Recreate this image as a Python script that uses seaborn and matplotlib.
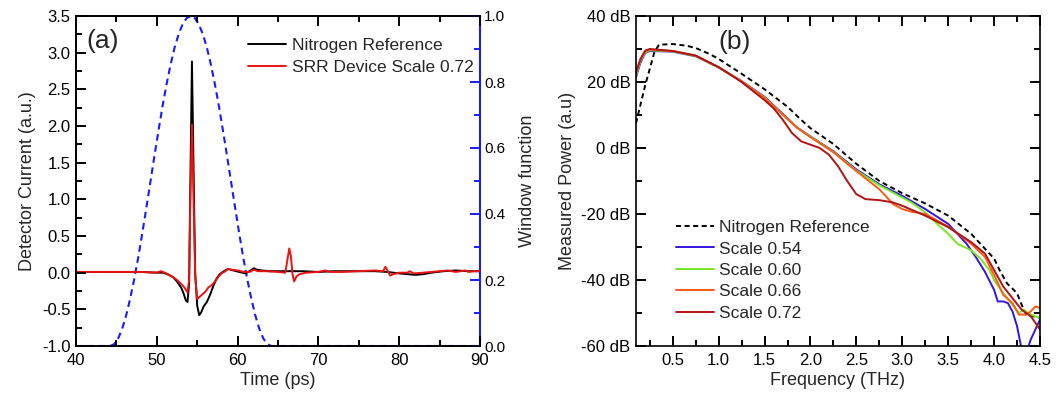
import matplotlib
matplotlib.use("Agg")
import matplotlib.pyplot as plt
from matplotlib.ticker import MultipleLocator
from matplotlib.lines import Line2D
import seaborn as sns

# ---------------- time-domain traces (ps, a.u.) ----------------
nitrogen_trace = [
    (40, 0.01), (45, 0.01), (48, 0.01), (50, 0.0), (50.8, 0.0), (51.5, -0.03),
    (52, -0.06), (52.5, -0.12), (53, -0.2), (53.3, -0.28), (53.6, -0.38),
    (53.8, -0.40), (54.0, -0.15), (54.15, 1.2), (54.35, 2.88), (54.55, 1.4),
    (54.75, 0.0), (55.0, -0.45), (55.25, -0.58), (55.5, -0.54), (55.8, -0.46),
    (56.2, -0.40), (56.6, -0.30), (57.0, -0.18), (57.4, -0.08), (57.8, -0.02),
    (58.3, 0.02), (58.8, 0.05), (59.5, 0.03), (60.2, 0.01), (61.0, -0.01),
    (61.6, 0.03), (62.0, 0.06), (62.4, 0.04), (63.0, 0.03), (64, 0.02),
    (66, 0.02), (68, 0.02), (70, 0.01), (72, 0.02), (75, 0.02), (77, 0.02),
    (78.5, 0.01), (80, -0.01), (81, -0.02), (82, -0.03), (83, -0.02),
    (84, 0.0), (85.5, 0.02), (87, 0.03), (88.5, 0.02), (90, 0.02),
]

srr_trace = [
    (40, 0.01), (45, 0.01), (48, 0.01), (50, 0.0), (50.5, 0.02), (51, 0.0),
    (51.5, -0.03), (52, -0.06), (52.5, -0.1), (53, -0.15), (53.4, -0.2),
    (53.8, -0.27), (54.0, -0.1), (54.15, 1.0), (54.35, 2.02), (54.55, 1.0),
    (54.75, -0.05), (55.0, -0.36), (55.3, -0.33), (55.6, -0.3), (56.0, -0.26),
    (56.4, -0.2), (56.8, -0.17), (57.2, -0.12), (57.6, -0.06), (58.0, -0.01),
    (58.5, 0.02), (58.8, 0.05), (59.3, 0.04), (60, 0.03), (60.8, 0.01),
    (61.5, 0.01), (62, 0.04), (62.5, 0.02), (63.5, 0.02), (65, 0.01),
    (65.9, 0.0), (66.2, 0.2), (66.4, 0.33), (66.6, 0.22), (66.8, -0.02),
    (67.0, -0.12), (67.3, -0.05), (67.7, -0.02), (68.5, 0.0), (70, 0.01),
    (70.8, 0.03), (71.5, 0.01), (73, 0.01), (75, 0.02), (77, 0.03),
    (78.0, 0.02), (78.3, 0.08), (78.6, 0.02), (78.9, -0.04), (79.3, -0.02),
    (80, 0.0), (81, 0.0), (81.3, 0.02), (81.8, -0.01), (83, 0.0), (85, 0.02),
    (86, 0.03), (87, 0.01), (88.2, 0.03), (88.6, 0.01), (89.2, 0.02), (90, 0.02),
]

# window function applied to the time traces
window_time = [40, 44.2, 44.7, 45.2, 45.7, 46.2, 46.7, 47.2, 47.7, 48.2, 48.7,
               49.2, 49.7, 50.2, 50.7, 51.2, 51.7, 52.2, 52.7, 53.2, 53.7,
               54.2, 54.7, 55.2, 55.7, 56.2, 56.7, 57.2, 57.7, 58.2, 58.7,
               59.2, 59.7, 60.2, 60.7, 61.2, 61.7, 62.2, 62.7, 63.2, 63.7,
               64.2, 90]
window_value = [0.0, 0.0, 0.005, 0.022, 0.051, 0.092, 0.143, 0.202, 0.268,
                0.341, 0.418, 0.496, 0.575, 0.651, 0.725, 0.792, 0.852, 0.904,
                0.945, 0.975, 0.994, 1.0, 0.994, 0.975, 0.945, 0.904, 0.852,
                0.792, 0.725, 0.651, 0.575, 0.496, 0.418, 0.341, 0.268, 0.202,
                0.143, 0.092, 0.051, 0.022, 0.005, 0.0, 0.0]

# ---------------- power spectra (THz, dB) ----------------
ref_spectrum = [
    (0.1, 7.5), (0.2, 19), (0.3, 29), (0.35, 31.3), (0.5, 31.5), (0.65, 31),
    (0.75, 30.3), (0.9, 28.5), (1.0, 27), (1.25, 22.5), (1.5, 17.8),
    (1.75, 12.5), (1.9, 8.5), (2.0, 6), (2.25, 1.2), (2.5, -4.8), (2.75, -10),
    (3.0, -13.7), (3.25, -16.8), (3.5, -20.5), (3.75, -26), (3.9, -30.5),
    (4.0, -33.5), (4.06, -37), (4.14, -41), (4.25, -44), (4.3, -47.5),
    (4.35, -50.5), (4.5, -51.5),
]

scale_054 = [
    (0.1, 21.5), (0.15, 26), (0.2, 28.8), (0.25, 29.4), (0.5, 29.2),
    (0.75, 27.8), (1.0, 24.4), (1.25, 20.3), (1.5, 15.5), (1.75, 9),
    (1.85, 6.3), (2.0, 3.5), (2.25, -1), (2.5, -6.5), (2.75, -11),
    (3.0, -14.5), (3.25, -18.5), (3.5, -23), (3.7, -29), (3.8, -33),
    (3.9, -37.5), (4.0, -43), (4.04, -46.5), (4.1, -46.5), (4.15, -47),
    (4.2, -49.5), (4.25, -54), (4.3, -61), (4.34, -63), (4.4, -58), (4.5, -52),
]

scale_060 = [
    (0.1, 22), (0.15, 26.5), (0.2, 29), (0.25, 29.6), (0.5, 29.3),
    (0.75, 27.9), (1.0, 24.4), (1.25, 20.2), (1.5, 15.3), (1.75, 8.8),
    (1.85, 6.2), (2.0, 3.4), (2.25, -1.2), (2.5, -6.8), (2.75, -11.3),
    (3.0, -15), (3.1, -16.5), (3.25, -19.5), (3.4, -23.5), (3.5, -26),
    (3.6, -29), (3.75, -31), (3.85, -33.5), (3.95, -37), (4.0, -40),
    (4.1, -44), (4.2, -47.5), (4.27, -50), (4.32, -49), (4.4, -50.5),
    (4.5, -51.5),
]

scale_066 = [
    (0.1, 22.5), (0.15, 27), (0.2, 29.3), (0.25, 29.8), (0.5, 29.4),
    (0.75, 28), (1.0, 24.5), (1.25, 20.2), (1.5, 15.2), (1.75, 8.8),
    (1.85, 6.2), (2.0, 3.3), (2.25, -1.3), (2.5, -7), (2.75, -12.5),
    (2.9, -17), (3.0, -18.5), (3.1, -19.3), (3.25, -20), (3.5, -23.8),
    (3.75, -29), (3.9, -33), (4.0, -38.5), (4.1, -44.5), (4.2, -47),
    (4.27, -50.5), (4.35, -50.5), (4.4, -49.5), (4.45, -48), (4.5, -48.5),
]

scale_072 = [
    (0.1, 23), (0.15, 27), (0.2, 29.5), (0.25, 30), (0.5, 29.4), (0.75, 28),
    (1.0, 24.5), (1.25, 20), (1.5, 14.5), (1.6, 12), (1.7, 8.5), (1.8, 4.5),
    (1.9, 2), (2.0, 1), (2.1, 0), (2.2, -2), (2.3, -5.5), (2.4, -10),
    (2.5, -14), (2.6, -15.5), (2.75, -15.8), (2.9, -16.5), (3.0, -17.5),
    (3.25, -20.5), (3.5, -24), (3.75, -28.5), (3.9, -32), (4.0, -37),
    (4.1, -42), (4.2, -45.5), (4.3, -49), (4.4, -51), (4.5, -55),
]

spectrum_labels = ["Scale 0.54", "Scale 0.60", "Scale 0.66", "Scale 0.72"]
spectrum_colors = ["#3514dc", "#77e624", "#ff5a14", "#b01414"]
power_ticks = [-60, -40, -20, 0, 20, 40]
power_tick_labels = [f"{v} dB" for v in power_ticks]

# ---------------- styling ----------------
sns.set_theme(style="ticks", rc={
    "axes.axisbelow": False,
    "xtick.direction": "in", "ytick.direction": "in",
    "xtick.top": True, "ytick.right": True,
    "xtick.major.size": 7, "ytick.major.size": 7,
    "xtick.minor.size": 4, "ytick.minor.size": 4,
    "xtick.major.width": 1.4, "ytick.major.width": 1.4,
    "xtick.minor.width": 1.4, "ytick.minor.width": 1.4,
    "xtick.color": "black", "ytick.color": "black",
    "axes.edgecolor": "black", "axes.linewidth": 1.2,
})
plt.rcParams["font.family"] = ["Liberation Sans", "DejaVu Sans"]
plt.rcParams["axes.unicode_minus"] = False

fig = plt.figure(figsize=(10.61, 3.97), dpi=100)
ax_a = fig.add_axes([76 / 1061, 51 / 397, 404 / 1061, 330 / 397])
ax_b = fig.add_axes([636 / 1061, 51 / 397, 404 / 1061, 330 / 397])

TICK_FS = 12
LABEL_FS = 13
LEG_FS = 12.5
WINDOW_BLUE = "#1a1aff"


def split(pairs):
    return [p[0] for p in pairs], [p[1] for p in pairs]


def style_ticks(ax, right=True):
    for s in ax.spines.values():
        s.set_visible(True)
    ax.tick_params(which="both", direction="in", bottom=True, left=True,
                   top=True, right=right, labelsize=TICK_FS,
                   color="black", labelcolor="black", width=1.4)
    ax.tick_params(which="major", length=7)
    ax.tick_params(which="minor", length=4)
    ax.tick_params(axis="x", which="both", pad=5)
    ax.tick_params(axis="y", which="both", pad=4)


# ---------------- panel (a) ----------------
t_n, v_n = split(nitrogen_trace)
t_s, v_s = split(srr_trace)
ax_w = ax_a.twinx()
sns.lineplot(x=window_time, y=window_value, ax=ax_w, color=WINDOW_BLUE,
             lw=1.5, linestyle=(0, (3.2, 2.2)), estimator=None, sort=False)
sns.lineplot(x=t_n, y=v_n, ax=ax_a, color="black", lw=1.4,
             estimator=None, sort=False)
sns.lineplot(x=t_s, y=v_s, ax=ax_a, color="#ee1111", lw=1.4,
             estimator=None, sort=False)
ax_a.set_zorder(ax_w.get_zorder() + 1)
ax_a.patch.set_visible(False)

ax_a.set_xlim(40, 90)
ax_a.set_ylim(-1.0, 3.5)
ax_a.xaxis.set_major_locator(MultipleLocator(10))
ax_a.xaxis.set_minor_locator(MultipleLocator(5))
ax_a.yaxis.set_major_locator(MultipleLocator(0.5))
ax_a.yaxis.set_minor_locator(MultipleLocator(0.25))
ax_a.yaxis.set_major_formatter(lambda v, p: f"{v:.1f}")
style_ticks(ax_a, right=False)
ax_a.spines["right"].set_visible(False)
ax_a.set_xlabel("Time (ps)", fontsize=LABEL_FS, labelpad=3)
ax_a.set_ylabel("Detector Current (a.u.)", fontsize=LABEL_FS, labelpad=4)

ax_w.set_ylim(0, 1.0)
ax_w.yaxis.set_major_locator(MultipleLocator(0.2))
ax_w.yaxis.set_minor_locator(MultipleLocator(0.1))
ax_w.yaxis.set_major_formatter(lambda v, p: f"{v:.1f}")
ax_w.tick_params(axis="y", which="both", direction="in", left=False,
                 right=True, labelsize=11, color=WINDOW_BLUE,
                 labelcolor="black", pad=3)
ax_w.tick_params(axis="x", which="both", top=False, bottom=False)
ax_w.spines["right"].set_color(WINDOW_BLUE)
ax_w.spines["right"].set_linewidth(1.5)
ax_w.set_ylabel("Window function", fontsize=LABEL_FS, labelpad=10)

ax_a.text(43.3, 3.16, "(a)", fontsize=19, ha="center", va="center")

leg_a = [Line2D([], [], color="black", lw=1.4),
         Line2D([], [], color="#ee1111", lw=1.4)]
ax_a.legend(leg_a, ["Nitrogen Reference", "SRR Device Scale 0.72"],
            loc="upper left", bbox_to_anchor=(248 / 1061, 1 - 38 / 397),
            bbox_transform=fig.transFigure, frameon=False, fontsize=LEG_FS,
            handlelength=2.2, handletextpad=0.35, labelspacing=0.38,
            borderpad=0, borderaxespad=0)

# ---------------- panel (b) ----------------
f_r, p_r = split(ref_spectrum)
sns.lineplot(x=f_r, y=p_r, ax=ax_b, color="black", lw=1.4,
             linestyle=(0, (2.6, 1.8)), estimator=None, sort=False)
for series, col in zip([scale_054, scale_060, scale_066, scale_072],
                       spectrum_colors):
    f, p = split(series)
    sns.lineplot(x=f, y=p, ax=ax_b, color=col, lw=1.4,
                 estimator=None, sort=False)

ax_b.set_xlim(0.1, 4.5)
ax_b.set_ylim(-60, 40)
ax_b.xaxis.set_major_locator(MultipleLocator(0.5))
ax_b.xaxis.set_minor_locator(MultipleLocator(0.25))
ax_b.xaxis.set_major_formatter(lambda v, p: f"{v:.1f}")
ax_b.set_yticks(power_ticks)
ax_b.set_yticklabels(power_tick_labels)
ax_b.yaxis.set_minor_locator(MultipleLocator(10))
style_ticks(ax_b, right=True)
ax_b.set_xlabel("Frequency (THz)", fontsize=LABEL_FS, labelpad=3)
ax_b.set_ylabel("Measured Power (a.u)", fontsize=LABEL_FS, labelpad=4)
ax_b.text(1.17, 32, "(b)", fontsize=19, ha="center", va="center")

leg_b = [Line2D([], [], color="black", lw=1.4, linestyle=(0, (2.6, 1.8)))]
leg_b += [Line2D([], [], color=c, lw=1.4) for c in spectrum_colors]
ax_b.legend(leg_b, ["Nitrogen Reference"] + spectrum_labels,
            loc="upper left", bbox_to_anchor=(676 / 1061, 1 - 220 / 397),
            bbox_transform=fig.transFigure, frameon=False, fontsize=LEG_FS,
            handlelength=2.2, handletextpad=0.3, labelspacing=0.36,
            borderpad=0, borderaxespad=0)

fig.savefig("out.png", dpi=100)
